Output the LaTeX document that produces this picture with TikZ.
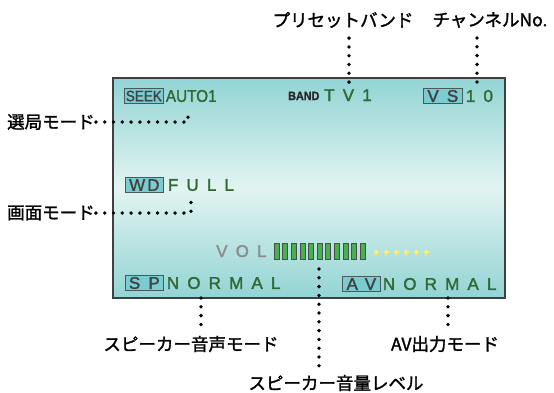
\documentclass[tikz,border=0pt]{standalone}
\usepackage{fontspec}
\usetikzlibrary{positioning}
\newfontfamily\jpfont[FakeBold=1.6]{Noto Sans CJK JP}
\newfontfamily\lcdfont[LetterSpace=48,FakeBold=1.8]{Liberation Sans}
\newfontfamily\lcdplain[LetterSpace=12,FakeBold=1]{Liberation Sans}
\newfontfamily\lcdnarrow[FakeStretch=0.9,FakeBold=1.2]{Liberation Sans}
\definecolor{lcdtop}{RGB}{146,212,212}
\definecolor{lcdmid}{RGB}{226,244,241}
\definecolor{lcdgreen}{RGB}{48,104,52}
\definecolor{tabfill}{RGB}{122,204,208}
\definecolor{tabline}{RGB}{70,90,90}
\definecolor{barfill}{RGB}{72,176,78}
\definecolor{dotyellow}{RGB}{246,240,120}
\begin{document}
\begin{tikzpicture}[x=1bp,y=-1bp,node distance=2bp]
    \useasboundingbox (0,0) rectangle (554,392);
    \tikzstyle{screenbox} = [rectangle, draw=black!75, line width=1.6bp, minimum width=392bp, minimum height=220bp, inner sep=0bp, top color=lcdtop, bottom color=lcdtop, middle color=lcdmid]
    \node (screen) [screenbox] at (309,188) {};
    \tikzstyle{tabbox} = [rectangle, draw=tabline, fill=tabfill, line width=0.7bp, inner sep=1bp, minimum height=15bp, text=black!75, font=\lcdfont\fontsize{17bp}{17bp}\selectfont]
    \tikzstyle{lcdval} = [inner sep=0bp, text=lcdgreen, font=\lcdfont\fontsize{17bp}{17bp}\selectfont]
    % top row of the screen
    \node (seek) [tabbox, minimum width=39bp, anchor=west, font=\lcdnarrow\fontsize{15bp}{15bp}\selectfont] at (124,96) {SEEK};
    \node (auto) [lcdval, right=2bp of seek, font=\lcdnarrow\fontsize{17bp}{17bp}\selectfont] {AUTO1};
    \node (band) [inner sep=0bp, anchor=base west, text=black!85, font=\lcdnarrow\bfseries\fontsize{12bp}{12bp}\selectfont] at (288,100) {BAND};
    \node (tv) [lcdval, anchor=base west] at (324,101) {TV1};
    \node (vs) [tabbox, minimum width=39bp, anchor=west] at (423,96) {VS};
    \node (ch) [lcdval, right=3bp of vs] {10};
    % picture mode
    \node (wd) [tabbox, minimum width=38bp, anchor=west, font=\lcdplain\fontsize{17bp}{17bp}\selectfont] at (125,185) {WD};
    \node (full) [lcdval, right=4bp of wd] {FULL};
    % volume
    \node (vol) [lcdval, anchor=base west, text=black!45] at (216,257) {VOL};
    \foreach \i in {0,...,10}
        \draw [draw=black!70, fill=barfill, line width=0.6bp] ({274+8.6*\i},243) rectangle ++(5,16);
    \foreach \i in {0,...,5}
        \draw [dotyellow, line width=1.3bp] ({376+10*\i},252) ++(-2.5,0) -- ++(5,0) ++(-2.5,-2.5) -- ++(0,5);
    % bottom row of the screen
    \node (sp) [tabbox, minimum width=38bp, anchor=west] at (125,283) {SP};
    \node (spval) [lcdval, right=3bp of sp] {NORMAL};
    \node (av) [tabbox, minimum width=38bp, anchor=west] at (342,284) {AV};
    \node (avval) [lcdval, right=2bp of av] {NORMAL};
    % captions
    \tikzstyle{jplabel} = [inner sep=1bp, font=\jpfont\fontsize{17.5bp}{20bp}\selectfont]
    \node (preset) [jplabel] at (343,20) {プリセットバンド};
    \node (chno) [jplabel] at (490,20) {チャンネルNo.};
    \node (selmode) [jplabel, anchor=west] at (6,122) {選局モード};
    \node (scrmode) [jplabel, anchor=west] at (6,213) {画面モード};
    \node (spmode) [jplabel] at (191,344) {スピーカー音声モード};
    \node (vollev) [jplabel] at (336,383) {スピーカー音量レベル};
    \node (avmode) [jplabel] at (445,344) {AV出力モード};
    % dotted leaders
    \tikzstyle{dotline} = [line width=3.8bp, line cap=round, dash pattern=on 0bp off 8.8bp]
    \coordinate (bandpt) at (349,84);
    \coordinate (chpt) at (477,85);
    \coordinate (selpt) at (188,109);
    \coordinate (scrpt) at (191,198);
    \coordinate (sppt) at (201,298);
    \coordinate (volpt) at (319,269);
    \coordinate (avpt) at (448,298);
    \draw [dotline, shorten <=9bp] (bandpt |- preset.south) -- (bandpt);
    \draw [dotline, shorten <=9bp] (chpt |- chno.south) -- (chpt);
    \draw [dotline] (selmode.east) -| (selpt);
    \draw [dotline] (scrmode.east) -| (scrpt);
    \draw [dotline, shorten >=10bp] (sppt) -- (sppt |- spmode.north);
    \draw [dotline, shorten >=7bp] (volpt) -- (volpt |- vollev.north);
    \draw [dotline, shorten >=6bp] (avpt) -- (avpt |- avmode.north);
\end{tikzpicture}
\end{document}
